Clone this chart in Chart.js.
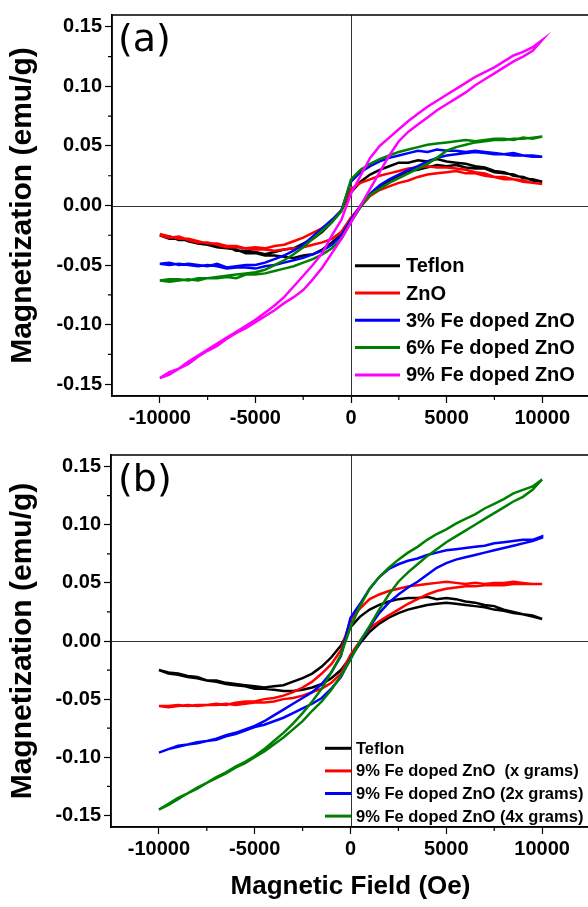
<!DOCTYPE html>
<html>
<head>
<meta charset="utf-8">
<script src="https://cdn.jsdelivr.net/npm/chart.js@4.4.1/dist/chart.umd.min.js"></script>
<style>
  html,body{margin:0;padding:0;background:#fff;width:588px;height:907px;overflow:hidden;position:relative;}
  canvas{position:absolute;left:0;}
  #ca{top:0;}
  #cb{top:440px;}
</style>
</head>
<body>
<canvas id="ca" width="600" height="440" style="width:600px;height:440px"></canvas>
<canvas id="cb" width="600" height="467" style="width:600px;height:467px"></canvas>
<script>
// Magnetic field (Oe) grid used for every branch
const field = [-10000,-9500,-9000,-8500,-8000,-7500,-7000,-6500,-6000,-5500,-5000,-4500,-4000,-3500,-3000,-2500,-2000,-1500,-1000,-500,
  0,500,1000,1500,2000,2500,3000,3500,4000,4500,5000,5500,6000,6500,7000,7500,8000,8500,9000,9500,10000];

const xTicks = [-10000,-5000,0,5000,10000];
const yTicks = [-0.15,-0.10,-0.05,0.00,0.05,0.10,0.15];

// ---------- Panel (a) ---------- (L = ascending branch, U = descending branch)
const tefA_L = [-0.025,-0.028,-0.027,-0.030,-0.032,-0.033,-0.035,-0.036,-0.037,-0.040,-0.040,-0.042,-0.042,-0.043,-0.044,-0.042,-0.041,-0.037,-0.031,-0.024,
  -0.013,-0.001,0.009,0.016,0.021,0.025,0.029,0.030,0.032,0.034,0.033,0.034,0.032,0.031,0.031,0.028,0.027,0.026,0.023,0.022,0.020];
const tefA_U = [-0.025,-0.026,-0.029,-0.029,-0.031,-0.033,-0.033,-0.035,-0.038,-0.038,-0.039,-0.041,-0.039,-0.037,-0.036,-0.032,-0.028,-0.022,-0.014,-0.004,
  0.011,0.020,0.026,0.030,0.033,0.036,0.036,0.038,0.037,0.039,0.037,0.036,0.035,0.033,0.032,0.029,0.028,0.025,0.024,0.021,0.020];

const znoA_L = [-0.025,-0.027,-0.026,-0.029,-0.031,-0.031,-0.033,-0.035,-0.035,-0.036,-0.037,-0.037,-0.038,-0.037,-0.036,-0.035,-0.033,-0.031,-0.028,-0.022,
  -0.010,-0.001,0.008,0.013,0.016,0.019,0.021,0.024,0.026,0.027,0.028,0.029,0.027,0.027,0.025,0.024,0.022,0.022,0.020,0.019,0.018];
const znoA_U = [-0.024,-0.026,-0.028,-0.028,-0.030,-0.032,-0.032,-0.034,-0.034,-0.036,-0.035,-0.036,-0.034,-0.033,-0.030,-0.027,-0.023,-0.019,-0.013,-0.004,
  0.014,0.019,0.022,0.025,0.027,0.029,0.031,0.032,0.033,0.032,0.032,0.031,0.030,0.028,0.027,0.024,0.024,0.022,0.021,0.019,0.018];

const fe3A_L = [-0.049,-0.050,-0.049,-0.050,-0.051,-0.050,-0.051,-0.053,-0.052,-0.052,-0.053,-0.051,-0.050,-0.048,-0.046,-0.044,-0.041,-0.038,-0.033,-0.025,
  -0.012,0.000,0.010,0.017,0.022,0.026,0.030,0.033,0.037,0.040,0.042,0.043,0.044,0.045,0.044,0.043,0.043,0.042,0.042,0.041,0.041];
const fe3A_U = [-0.049,-0.048,-0.050,-0.049,-0.050,-0.051,-0.049,-0.052,-0.051,-0.050,-0.050,-0.048,-0.045,-0.042,-0.038,-0.033,-0.026,-0.019,-0.012,-0.004,
  0.020,0.028,0.033,0.037,0.040,0.042,0.044,0.046,0.045,0.047,0.046,0.046,0.045,0.046,0.045,0.044,0.043,0.044,0.042,0.042,0.041];

const fe6A_L = [-0.063,-0.064,-0.063,-0.062,-0.063,-0.061,-0.061,-0.060,-0.061,-0.058,-0.058,-0.057,-0.055,-0.053,-0.051,-0.048,-0.045,-0.041,-0.036,-0.028,
  -0.014,-0.001,0.009,0.014,0.019,0.023,0.027,0.031,0.035,0.040,0.046,0.049,0.051,0.053,0.054,0.055,0.055,0.056,0.056,0.057,0.058];
const fe6A_U = [-0.063,-0.062,-0.062,-0.063,-0.061,-0.061,-0.060,-0.059,-0.058,-0.057,-0.056,-0.054,-0.050,-0.046,-0.041,-0.035,-0.028,-0.021,-0.014,-0.005,
  0.022,0.030,0.035,0.039,0.042,0.045,0.047,0.049,0.051,0.052,0.053,0.054,0.055,0.054,0.055,0.056,0.056,0.055,0.057,0.056,0.058];

const fe9A_L = [-0.145,-0.142,-0.137,-0.133,-0.127,-0.122,-0.118,-0.112,-0.107,-0.103,-0.098,-0.093,-0.088,-0.082,-0.077,-0.071,-0.062,-0.052,-0.040,-0.028,
  -0.014,0.000,0.014,0.028,0.042,0.054,0.062,0.068,0.074,0.080,0.085,0.090,0.095,0.101,0.106,0.111,0.116,0.121,0.125,0.130,0.139];
const fe9A_U = [-0.145,-0.140,-0.137,-0.131,-0.126,-0.121,-0.116,-0.111,-0.106,-0.101,-0.096,-0.090,-0.084,-0.077,-0.068,-0.059,-0.050,-0.040,-0.025,-0.012,
  0.010,0.025,0.040,0.050,0.057,0.064,0.071,0.077,0.083,0.088,0.093,0.098,0.103,0.108,0.112,0.116,0.121,0.126,0.129,0.133,0.139];

// ---------- Panel (b) ----------
const tefB_L = [-0.025,-0.028,-0.029,-0.031,-0.032,-0.034,-0.035,-0.037,-0.038,-0.039,-0.041,-0.041,-0.042,-0.043,-0.043,-0.042,-0.040,-0.037,-0.032,-0.025,
  -0.014,-0.002,0.008,0.015,0.020,0.024,0.027,0.029,0.031,0.032,0.033,0.032,0.031,0.030,0.029,0.027,0.026,0.024,0.023,0.021,0.019];
const tefB_U = [-0.025,-0.027,-0.028,-0.030,-0.031,-0.034,-0.034,-0.036,-0.037,-0.038,-0.039,-0.040,-0.039,-0.038,-0.035,-0.032,-0.028,-0.022,-0.014,-0.004,
  0.012,0.021,0.027,0.031,0.034,0.036,0.037,0.037,0.038,0.036,0.037,0.036,0.034,0.033,0.031,0.030,0.027,0.025,0.023,0.022,0.019];

const x1B_L = [-0.056,-0.057,-0.056,-0.055,-0.056,-0.055,-0.055,-0.054,-0.055,-0.054,-0.053,-0.053,-0.052,-0.050,-0.049,-0.047,-0.044,-0.041,-0.036,-0.028,
  -0.012,0.000,0.011,0.017,0.022,0.027,0.032,0.036,0.040,0.043,0.045,0.046,0.047,0.047,0.048,0.048,0.048,0.049,0.049,0.049,0.049];
const x1B_U = [-0.056,-0.056,-0.055,-0.056,-0.055,-0.055,-0.054,-0.055,-0.053,-0.052,-0.052,-0.050,-0.049,-0.047,-0.044,-0.040,-0.035,-0.028,-0.020,-0.008,
  0.018,0.028,0.036,0.040,0.043,0.045,0.047,0.048,0.049,0.050,0.051,0.050,0.049,0.050,0.049,0.050,0.050,0.051,0.050,0.049,0.049];

const x2B_L = [-0.096,-0.093,-0.091,-0.089,-0.088,-0.086,-0.085,-0.082,-0.080,-0.077,-0.074,-0.072,-0.069,-0.066,-0.062,-0.058,-0.054,-0.049,-0.041,-0.031,
  -0.015,-0.001,0.012,0.024,0.033,0.040,0.046,0.051,0.057,0.063,0.067,0.070,0.072,0.074,0.076,0.078,0.080,0.082,0.084,0.086,0.089];
const x2B_U = [-0.096,-0.093,-0.090,-0.089,-0.087,-0.086,-0.084,-0.081,-0.079,-0.076,-0.073,-0.069,-0.064,-0.059,-0.054,-0.049,-0.044,-0.037,-0.027,-0.013,
  0.020,0.032,0.045,0.055,0.062,0.066,0.069,0.071,0.074,0.076,0.078,0.079,0.080,0.081,0.082,0.084,0.085,0.086,0.087,0.087,0.090];

const x4B_L = [-0.145,-0.141,-0.136,-0.131,-0.127,-0.122,-0.118,-0.114,-0.109,-0.105,-0.100,-0.095,-0.089,-0.083,-0.076,-0.069,-0.060,-0.052,-0.042,-0.030,
  -0.016,0.000,0.013,0.027,0.040,0.051,0.059,0.066,0.073,0.079,0.085,0.090,0.095,0.100,0.105,0.110,0.115,0.120,0.124,0.130,0.139];
const x4B_U = [-0.145,-0.140,-0.135,-0.131,-0.126,-0.122,-0.117,-0.113,-0.108,-0.104,-0.099,-0.093,-0.086,-0.079,-0.071,-0.062,-0.052,-0.041,-0.027,-0.012,
  0.012,0.030,0.045,0.055,0.063,0.070,0.076,0.081,0.087,0.092,0.096,0.101,0.105,0.109,0.114,0.118,0.122,0.127,0.130,0.133,0.139];

const labelsA = ['Teflon','ZnO','3% Fe doped ZnO','6% Fe doped ZnO','9% Fe doped ZnO'];
const labelsB = ['Teflon','9% Fe doped ZnO  (x grams)','9% Fe doped ZnO (2x grams)','9% Fe doped ZnO (4x grams)'];
const colorsA = ['#000000','#ff0000','#0000ff','#008000','#ff00ff'];
const colorsB = ['#000000','#ff0000','#0000ff','#008000'];

function loop(L, U) {
  const pts = field.map((h, i) => ({x: h, y: L[i]}));
  for (let i = field.length - 1; i >= 0; i--) pts.push({x: field[i], y: U[i]});
  return pts;
}

const decor = {
  id: 'decor',
  beforeDatasetsDraw(chart) {
    const {ctx, chartArea: a, scales: {x, y}} = chart;
    ctx.save();
    ctx.strokeStyle = '#333';
    ctx.lineWidth = 1;
    const x0 = Math.round(x.getPixelForValue(0)) + 0.5;
    const y0 = Math.round(y.getPixelForValue(0)) + 0.5;
    ctx.beginPath();
    ctx.moveTo(x0, a.top); ctx.lineTo(x0, a.bottom);
    ctx.moveTo(a.left, y0); ctx.lineTo(a.right, y0);
    ctx.stroke();
    ctx.restore();
  },
  afterDraw(chart, args, o) {
    const {ctx, chartArea: a, scales: {x, y}} = chart;
    ctx.save();
    ctx.strokeStyle = '#000';
    ctx.lineWidth = 1.5;
    ctx.strokeRect(a.left, a.top, a.right - a.left, a.bottom - a.top);
    ctx.lineWidth = 1.2;
    ctx.beginPath();
    [-7500, -2500, 2500, 7500].forEach(v => {
      const px = x.getPixelForValue(v);
      ctx.moveTo(px, a.bottom); ctx.lineTo(px, a.bottom + 4);
    });
    [-0.125, -0.075, -0.025, 0.025, 0.075, 0.125].forEach(v => {
      const py = y.getPixelForValue(v);
      ctx.moveTo(a.left, py); ctx.lineTo(a.left - 4, py);
    });
    ctx.stroke();
    ctx.fillStyle = '#000';
    ctx.font = '38px "DejaVu Sans"';
    ctx.textBaseline = 'middle';
    ctx.textAlign = 'left';
    ctx.fillText(o.panel, o.px, o.py);
    ctx.font = 'bold ' + o.fs + 'px "Liberation Sans"';
    chart.data.datasets.forEach((ds, i) => {
      const yy = o.ly + i * o.dy;
      ctx.strokeStyle = ds.borderColor;
      ctx.lineWidth = 3;
      ctx.beginPath();
      ctx.moveTo(o.l0, yy); ctx.lineTo(o.l1, yy);
      ctx.stroke();
      ctx.fillStyle = '#000';
      ctx.fillText(ds.label, o.tx, yy + 1);
    });
    ctx.restore();
  }
};

function keepTicks(list) {
  return function(scale) {
    scale.ticks = list.map(v => ({value: v}));
  };
}

function makeChart(id, datasets, opt) {
  return new Chart(document.getElementById(id), {
    type: 'scatter',
    data: {datasets},
    plugins: [decor],
    options: {
      responsive: false,
      animation: false,
      devicePixelRatio: 1,
      layout: {padding: {top: opt.padTop, right: 10, left: 0, bottom: 0}},
      plugins: {legend: {display: false}, tooltip: {enabled: false}, decor: opt.decor},
      elements: {point: {radius: 0}, line: {tension: 0}},
      scales: {
        x: {
          type: 'linear', min: -12500, max: 12500,
          afterBuildTicks: keepTicks(xTicks),
          afterFit: s => { s.height = opt.xh; },
          grid: {drawOnChartArea: false, drawTicks: true, tickLength: 7, tickColor: '#000', tickWidth: 1.2},
          border: {display: true, color: '#000', width: 1.5},
          ticks: {color: '#000', padding: 3, maxRotation: 0, font: {family: 'Liberation Sans', size: 20, weight: 'bold'},
                  callback: v => String(v)},
          title: {display: opt.xTitle, text: 'Magnetic Field (Oe)', color: '#000',
                  font: {family: 'Liberation Sans', size: 26, weight: 'bold'}, padding: {top: 0, bottom: 5}}
        },
        y: {
          type: 'linear', min: -0.16, max: 0.16,
          afterBuildTicks: keepTicks(yTicks),
          afterFit: s => { s.width = opt.yw; },
          grid: {drawOnChartArea: false, drawTicks: true, tickLength: 7, tickColor: '#000', tickWidth: 1.2},
          border: {display: true, color: '#000', width: 1.5},
          ticks: {color: '#000', padding: 3, font: {family: 'Liberation Sans', size: 20, weight: 'bold'},
                  callback: v => Number(v).toFixed(2)},
          title: {display: true, text: 'Magnetization (emu/g)', color: '#000',
                  font: {family: 'Liberation Sans', size: 30, weight: 'bold'}, padding: {top: 5, bottom: 0}}
        }
      }
    }
  });
}

const seriesA = [[tefA_L, tefA_U], [znoA_L, znoA_U], [fe3A_L, fe3A_U], [fe6A_L, fe6A_U], [fe9A_L, fe9A_U]];
const seriesB = [[tefB_L, tefB_U], [x1B_L, x1B_U], [x2B_L, x2B_U], [x4B_L, x4B_U]];

const dsA = seriesA.map((s, i) => ({label: labelsA[i], data: loop(s[0], s[1]), showLine: true,
  borderColor: colorsA[i], backgroundColor: colorsA[i], borderWidth: 2.5, order: 5 - i}));
const dsB = seriesB.map((s, i) => ({label: labelsB[i], data: loop(s[0], s[1]), showLine: true,
  borderColor: colorsB[i], backgroundColor: colorsB[i], borderWidth: 2.5, order: 4 - i}));

makeChart('ca', dsA, {padTop: 10, xh: 44, yw: 112, xTitle: false,
  decor: {panel: '(a)', px: 118, py: 41, fs: 20, l0: 355, l1: 400, tx: 406, ly: 265.7, dy: 27.3}});
makeChart('cb', dsB, {padTop: 12, xh: 80, yw: 111, xTitle: true,
  decor: {panel: '(b)', px: 118, py: 41, fs: 16.5, l0: 325, l1: 351, tx: 356, ly: 308.3, dy: 22.6}});
</script>
</body>
</html>
